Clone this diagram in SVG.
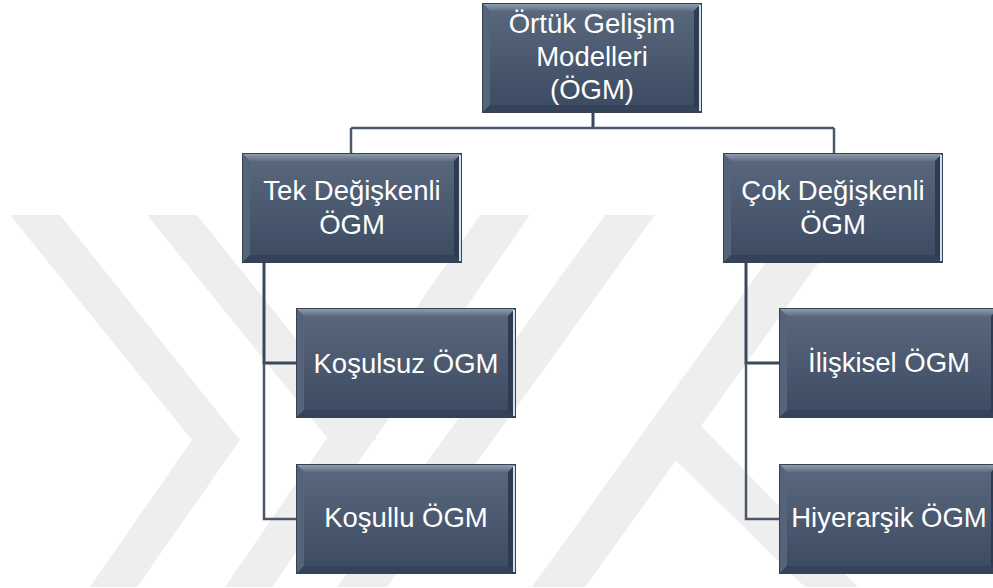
<svg xmlns="http://www.w3.org/2000/svg" xmlns:xlink="http://www.w3.org/1999/xlink" width="993" height="588" viewBox="0 0 993 588">
<style>
.wm{fill:#eeeeee}
.lbl{font-family:"Liberation Sans",Arial,sans-serif;font-size:27.5px;fill:#ffffff;text-anchor:middle}
.c1{fill:none;stroke:#3b485b;stroke-width:3}
.c3{fill:none;stroke:#4c5767;stroke-width:2.5}
</style>
<defs>
<linearGradient id="body" x1="0" y1="0" x2="0" y2="1">
<stop offset="0" stop-color="#5a697e"/>
<stop offset="1" stop-color="#3c4a61"/>
</linearGradient>
<linearGradient id="topbev" x1="0" y1="0" x2="0" y2="1">
<stop offset="0" stop-color="#97a3b2"/>
<stop offset="1" stop-color="#5f6e83"/>
</linearGradient>
<g id="box">
<rect x="0" y="0" width="220" height="110" fill="url(#body)"/>
<polygon points="0,0 220,0 212,8 8,8" fill="url(#topbev)"/>
<polygon points="0,0 8,8 8,102 0,110" fill="#55647a"/>
<polygon points="0,110 8,102 212,102 220,110" fill="#35435a"/>
<polygon points="220,0 220,110 212,102 212,8" fill="#2f3b4f"/>
<rect x="217" y="2" width="3" height="106" fill="#cde2f5"/>
<rect x="0.5" y="0.5" width="219" height="109" fill="none" stroke="#36424f" stroke-width="1"/>
</g>
</defs>
<rect width="993" height="588" fill="#ffffff"/>
<g id="watermark">
<polygon class="wm" points="10,215 60,215 240,440 137,587 90,587 192,440"/>
<polygon class="wm" points="147,215 197,215 377,440 329,440"/>
<polygon class="wm" points="480,215 530,215 272,587 225,587"/>
<polygon class="wm" points="605,215 655,215 387,587 337,587"/>
<polygon class="wm" points="800,215 853,215 585,587 532,587"/>
<polygon class="wm" points="660,445 700,425 858,587 805,587"/>
</g>
<g id="connectors">
<path class="c1" d="M593,113 V128"/>
<path class="c3" d="M351,128 H834 M351,128 V153 M834,128 V153"/>
<path class="c1" d="M264,263 V363 H296"/>
<path class="c3" d="M264,363 V519 H296"/>
<path class="c1" d="M746,263 V363 H779"/>
<path class="c3" d="M746,363 V519 H779"/>
</g>
<g id="node-root" transform="translate(482,3)">
<use href="#box" xlink:href="#box"/>
<text class="lbl" x="110" y="30">Örtük Gelişim</text>
<text class="lbl" x="110" y="63">Modelleri</text>
<text class="lbl" x="110" y="96">(ÖGM)</text>
</g>
<g id="node-tek" transform="translate(242,153)">
<use href="#box" xlink:href="#box"/>
<text class="lbl" x="110" y="47">Tek Değişkenli</text>
<text class="lbl" x="110" y="81">ÖGM</text>
</g>
<g id="node-cok" transform="translate(723,153)">
<use href="#box" xlink:href="#box"/>
<text class="lbl" x="110" y="47">Çok Değişkenli</text>
<text class="lbl" x="110" y="81">ÖGM</text>
</g>
<g id="node-kosulsuz" transform="translate(296,308)">
<use href="#box" xlink:href="#box"/>
<text class="lbl" x="110" y="65">Koşulsuz ÖGM</text>
</g>
<g id="node-kosullu" transform="translate(296,464)">
<use href="#box" xlink:href="#box"/>
<text class="lbl" x="110" y="63">Koşullu ÖGM</text>
</g>
<g id="node-iliskisel" transform="translate(779,308)">
<use href="#box" xlink:href="#box"/>
<text class="lbl" x="110" y="64">İlişkisel ÖGM</text>
</g>
<g id="node-hiyerarsik" transform="translate(779,464)">
<use href="#box" xlink:href="#box"/>
<text class="lbl" x="110" y="63">Hiyerarşik ÖGM</text>
</g>
</svg>
